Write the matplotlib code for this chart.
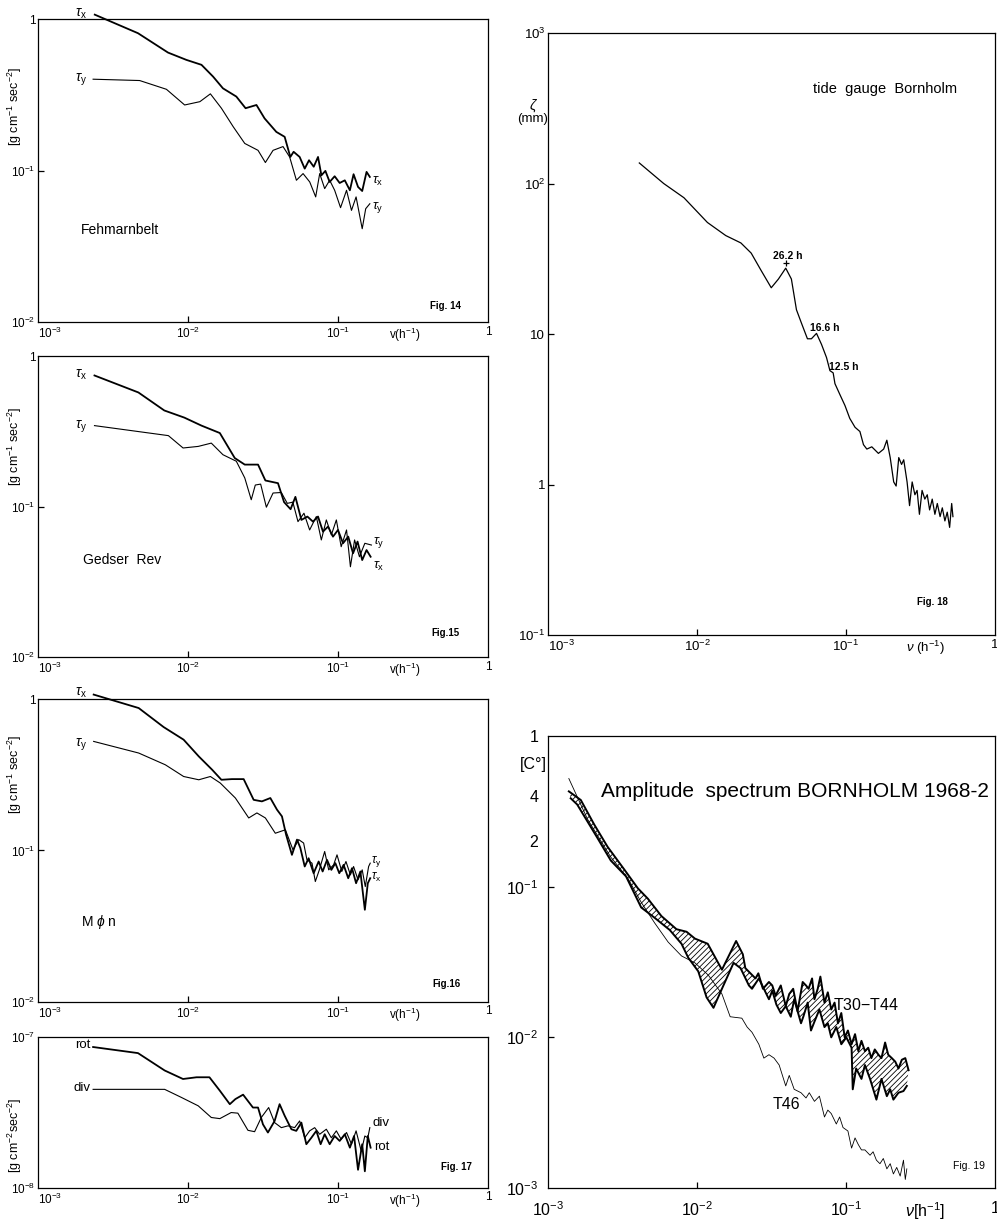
import matplotlib
matplotlib.use("Agg")
import matplotlib.pyplot as plt
from matplotlib.ticker import FixedLocator, FixedFormatter, NullFormatter

plt.rcParams['font.family'] = ['Liberation Sans', 'DejaVu Sans']
plt.rcParams['mathtext.fontset'] = 'custom'
plt.rcParams['mathtext.rm'] = 'Liberation Sans'
plt.rcParams['mathtext.it'] = 'Liberation Sans:italic'
plt.rcParams['mathtext.bf'] = 'Liberation Sans:bold'
plt.rcParams['hatch.linewidth'] = 0.6

# ---- Fig. 14  Fehmarnbelt ----
f14_tx = [0.00239, 0.00464, 0.00736, 0.00975, 0.0123, 0.0147, 0.0171, 0.021, 0.0242, 0.0286,
          0.0324, 0.0388, 0.0441, 0.0481, 0.0506, 0.0555, 0.06, 0.0641, 0.0689, 0.0736,
          0.0775, 0.0824, 0.088, 0.095, 0.1026, 0.111, 0.12, 0.127, 0.136, 0.145, 0.155, 0.163]
v14_tx = [1.07, 0.807, 0.601, 0.538, 0.499, 0.417, 0.349, 0.308, 0.258, 0.271,
          0.221, 0.18, 0.167, 0.123, 0.133, 0.123, 0.103, 0.117, 0.106, 0.123,
          0.093, 0.0995, 0.0841, 0.0917, 0.0828, 0.0862, 0.0741, 0.0946, 0.078, 0.0733, 0.098, 0.0908]
f14_ty = [0.00233, 0.00476, 0.00718, 0.0095, 0.012, 0.0141, 0.0167, 0.02, 0.0239, 0.0293,
          0.0328, 0.0369, 0.043, 0.0476, 0.0528, 0.0585, 0.0648, 0.071, 0.0755, 0.0815,
          0.088, 0.095, 0.104, 0.114, 0.123, 0.132, 0.145, 0.153, 0.163]
v14_ty = [0.401, 0.393, 0.344, 0.271, 0.285, 0.321, 0.258, 0.195, 0.151, 0.136,
          0.113, 0.136, 0.144, 0.123, 0.0863, 0.0955, 0.0841, 0.067, 0.0955, 0.076,
          0.0863, 0.0741, 0.0569, 0.0741, 0.0546, 0.067, 0.0413, 0.056, 0.0604]

# ---- Fig. 15  Gedser Rev ----
f15_tx = [0.00238, 0.00467, 0.00695, 0.00945, 0.0123, 0.0163, 0.0205, 0.0239, 0.0293, 0.0328,
          0.0398, 0.0437, 0.0483, 0.052, 0.057, 0.0625, 0.0681, 0.0736, 0.0794, 0.0858,
          0.0926, 0.1, 0.108, 0.117, 0.126, 0.135, 0.145, 0.155, 0.165]
v15_tx = [0.743, 0.573, 0.435, 0.39, 0.345, 0.308, 0.21, 0.19, 0.19, 0.149,
          0.143, 0.107, 0.096, 0.116, 0.0815, 0.0858, 0.0794, 0.0858, 0.0681, 0.0736,
          0.0631, 0.0699, 0.057, 0.0631, 0.0489, 0.0585, 0.0441, 0.0514, 0.0464]
f15_ty = [0.00238, 0.0074, 0.00927, 0.0117, 0.0143, 0.0171, 0.021, 0.0239, 0.0264, 0.0281,
          0.0305, 0.0333, 0.0369, 0.0419, 0.0459, 0.05, 0.0541, 0.0593, 0.0647, 0.0717,
          0.0774, 0.0836, 0.0903, 0.0975, 0.105, 0.114, 0.121, 0.129, 0.139, 0.151, 0.167]
v15_ty = [0.345, 0.296, 0.245, 0.251, 0.264, 0.221, 0.2, 0.155, 0.111, 0.139,
          0.141, 0.099, 0.123, 0.124, 0.105, 0.107, 0.0794, 0.0903, 0.0699, 0.0858,
          0.06, 0.0815, 0.0648, 0.0815, 0.0541, 0.0699, 0.0398, 0.06, 0.0464, 0.057, 0.0555]

# ---- Fig. 16  Møn ----
f16_tx = [0.00235, 0.00469, 0.00688, 0.00935, 0.0118, 0.0145, 0.0167, 0.0196, 0.0235, 0.0274,
          0.0311, 0.0354, 0.0392, 0.0423, 0.0451, 0.0493, 0.0533, 0.0561, 0.06, 0.0637,
          0.0688, 0.0743, 0.079, 0.0845, 0.0903, 0.096, 0.102, 0.109, 0.117, 0.124,
          0.132, 0.141, 0.151, 0.158, 0.164]
v16_tx = [1.07, 0.872, 0.653, 0.539, 0.418, 0.341, 0.293, 0.296, 0.296, 0.216,
          0.211, 0.222, 0.186, 0.168, 0.127, 0.0936, 0.118, 0.104, 0.0784, 0.0889,
          0.0708, 0.0846, 0.0727, 0.0867, 0.0745, 0.0825, 0.0708, 0.0804, 0.0656, 0.0764,
          0.0608, 0.0727, 0.0406, 0.0608, 0.0656]
f16_ty = [0.00235, 0.00469, 0.00706, 0.00935, 0.0118, 0.0141, 0.0164, 0.0207, 0.0254, 0.0288,
          0.0328, 0.0382, 0.0446, 0.0501, 0.0547, 0.059, 0.0621, 0.0671, 0.0706, 0.0751,
          0.0815, 0.0867, 0.0935, 0.0985, 0.106, 0.113, 0.121, 0.127, 0.136, 0.145,
          0.152, 0.16, 0.164]
v16_ty = [0.525, 0.44, 0.368, 0.308, 0.293, 0.308, 0.279, 0.222, 0.164, 0.177,
          0.164, 0.13, 0.137, 0.101, 0.118, 0.112, 0.0867, 0.0825, 0.0624, 0.0745,
          0.0985, 0.0745, 0.0804, 0.0936, 0.0727, 0.0846, 0.069, 0.0784, 0.064, 0.0745,
          0.0578, 0.0784, 0.0825]

# ---- Fig. 17  rot / div ----
f17_rot = [0.00233, 0.00464, 0.00699, 0.00926, 0.0114, 0.0139, 0.0163, 0.019, 0.0207, 0.0233,
           0.0271, 0.0293, 0.0316, 0.0341, 0.0378, 0.0408, 0.0441, 0.0489, 0.0527, 0.057,
           0.0615, 0.0664, 0.0717, 0.0766, 0.0815, 0.088, 0.095, 0.1026, 0.111, 0.12,
           0.128, 0.136, 0.145, 0.151, 0.158, 0.165]
v17_rot = [8.58e-8, 7.82e-8, 6.0e-8, 5.27e-8, 5.41e-8, 5.41e-8, 4.41e-8, 3.59e-8, 3.88e-8, 4.15e-8,
           3.41e-8, 3.41e-8, 2.64e-8, 2.33e-8, 2.78e-8, 3.59e-8, 3.01e-8, 2.45e-8, 2.39e-8, 2.71e-8,
           1.95e-8, 2.15e-8, 2.39e-8, 1.95e-8, 2.27e-8, 1.95e-8, 2.21e-8, 2.05e-8, 2.27e-8, 1.85e-8,
           2.21e-8, 1.32e-8, 1.95e-8, 1.29e-8, 2.21e-8, 1.85e-8]
f17_div = [0.00233, 0.00699, 0.00903, 0.0117, 0.0143, 0.0163, 0.0194, 0.0215, 0.0251, 0.0278,
           0.0308, 0.0345, 0.0378, 0.0419, 0.0464, 0.0514, 0.0555, 0.06, 0.0647, 0.0699,
           0.0755, 0.0836, 0.0903, 0.0975, 0.105, 0.114, 0.123, 0.132, 0.143, 0.151,
           0.158, 0.163]
v17_div = [4.5e-8, 4.5e-8, 3.98e-8, 3.5e-8, 2.93e-8, 2.88e-8, 3.16e-8, 3.13e-8, 2.41e-8, 2.36e-8,
           2.93e-8, 3.41e-8, 2.71e-8, 2.51e-8, 2.58e-8, 2.51e-8, 2.78e-8, 2.15e-8, 2.39e-8, 2.51e-8,
           2.27e-8, 2.45e-8, 2.15e-8, 2.39e-8, 2.1e-8, 2.33e-8, 1.95e-8, 2.39e-8, 1.75e-8, 2.21e-8,
           2.15e-8, 2.51e-8]

# ---- Fig. 18  tide gauge Bornholm ----
f18 = [0.0041, 0.00598, 0.00817, 0.01175, 0.0156, 0.0197, 0.0231, 0.0269, 0.0315, 0.0352,
       0.0394, 0.043, 0.0465, 0.0501, 0.0551, 0.0586, 0.0634, 0.0685, 0.074, 0.078,
       0.082, 0.0843, 0.091, 0.0984, 0.106, 0.115, 0.124, 0.131, 0.138, 0.149,
       0.165, 0.179, 0.188, 0.198, 0.209, 0.217, 0.226, 0.236, 0.244, 0.257,
       0.267, 0.278, 0.29, 0.3, 0.311, 0.324, 0.338, 0.351, 0.364, 0.379,
       0.395, 0.41, 0.428, 0.443, 0.461, 0.478, 0.496, 0.512, 0.522]
v18 = [137, 100, 80.5, 55.1, 45.1, 40.3, 34.5, 26.5, 20.3, 23.2,
       27.4, 23.2, 14.5, 11.9, 9.3, 9.3, 10.1, 8.53, 6.98, 5.71,
       5.52, 4.68, 3.96, 3.35, 2.75, 2.4, 2.25, 1.84, 1.72, 1.78,
       1.61, 1.72, 1.97, 1.51, 1.04, 0.977, 1.51, 1.36, 1.46, 1.04,
       0.724, 1.04, 0.855, 0.914, 0.634, 0.914, 0.8, 0.855, 0.678, 0.8,
       0.634, 0.748, 0.612, 0.7, 0.573, 0.655, 0.519, 0.748, 0.612]
peak18 = 10  # index of the 26.2 h peak

# ---- Fig. 19  amplitude spectrum ----
f19_t46 = [0.00138, 0.00184, 0.00264, 0.00343, 0.00422, 0.0052, 0.0064, 0.00787, 0.00969, 0.0119,
           0.0147, 0.0167, 0.02, 0.0217, 0.0234, 0.026, 0.0281, 0.0304, 0.0329, 0.0356,
           0.0394, 0.0416, 0.0449, 0.0499, 0.0539, 0.0567, 0.0614, 0.0663, 0.0717, 0.0755,
           0.0796, 0.0861, 0.0906, 0.0955, 0.103, 0.109, 0.115, 0.121, 0.127, 0.134,
           0.145, 0.152, 0.16, 0.169, 0.178, 0.188, 0.198, 0.208, 0.219, 0.231,
           0.243, 0.25, 0.256]
v19_t46 = [0.522, 0.281, 0.157, 0.114, 0.0788, 0.0574, 0.0429, 0.0347, 0.0312, 0.0259,
           0.0194, 0.0137, 0.0134, 0.0117, 0.0108, 0.009, 0.00728, 0.00767, 0.00728, 0.00655,
           0.00476, 0.00559, 0.00452, 0.00429, 0.00396, 0.00429, 0.00376, 0.00407, 0.00296, 0.00329,
           0.00312, 0.00266, 0.00296, 0.00252, 0.00239, 0.00184, 0.00215, 0.00194, 0.00179, 0.00179,
           0.00165, 0.00174, 0.00153, 0.00145, 0.00157, 0.00134, 0.00145, 0.00124, 0.00137, 0.0012,
           0.00153, 0.00114, 0.00134]
f19_up = [0.00138, 0.00166, 0.00204, 0.00251, 0.00325, 0.00401, 0.00468, 0.00577, 0.00728, 0.00851,
          0.00969, 0.0118, 0.0147, 0.0183, 0.0203, 0.0211, 0.0247, 0.0258, 0.0277, 0.0304,
          0.032, 0.0337, 0.0365, 0.0394, 0.0416, 0.0442, 0.0473, 0.0512, 0.0539, 0.0561,
          0.0592, 0.0614, 0.0646, 0.0673, 0.0717, 0.0755, 0.0796, 0.0838, 0.0883, 0.093,
          0.098, 0.103, 0.109, 0.115, 0.121, 0.127, 0.134, 0.141, 0.148, 0.156,
          0.165, 0.173, 0.183, 0.192, 0.203, 0.214, 0.225, 0.237, 0.25, 0.263]
v19_up = [0.429, 0.376, 0.259, 0.184, 0.13, 0.0975, 0.0832, 0.0638, 0.0522, 0.0502,
          0.0452, 0.0418, 0.0281, 0.0436, 0.0356, 0.0288, 0.0246, 0.0266, 0.021, 0.0233,
          0.0221, 0.0189, 0.0221, 0.0161, 0.0194, 0.021, 0.0149, 0.0233, 0.0221, 0.021,
          0.0246, 0.0179, 0.021, 0.0253, 0.017, 0.0199, 0.0153, 0.017, 0.0124, 0.0145,
          0.01, 0.0111, 0.009, 0.0105, 0.0081, 0.00948, 0.0081, 0.00853, 0.00728, 0.00831,
          0.00767, 0.00728, 0.00924, 0.00767, 0.00728, 0.0069, 0.00621, 0.0071, 0.00728, 0.00605]
f19_lo = [0.00142, 0.00157, 0.00215, 0.00264, 0.00334, 0.00422, 0.0052, 0.00656, 0.00787, 0.00873,
          0.0102, 0.0116, 0.0129, 0.0147, 0.0176, 0.0196, 0.0223, 0.0234, 0.026, 0.0281,
          0.0304, 0.032, 0.0341, 0.0365, 0.0394, 0.0426, 0.0449, 0.0499, 0.0517, 0.0553,
          0.0582, 0.0614, 0.0663, 0.0717, 0.0755, 0.0796, 0.0861, 0.093, 0.1005, 0.109,
          0.111, 0.117, 0.127, 0.134, 0.145, 0.16, 0.173, 0.188, 0.198, 0.208,
          0.225, 0.243, 0.256]
v19_lo = [0.386, 0.351, 0.21, 0.149, 0.117, 0.0728, 0.0621, 0.0516, 0.0418, 0.0338,
          0.0274, 0.0184, 0.0157, 0.021, 0.0312, 0.0288, 0.0221, 0.021, 0.0246, 0.021,
          0.0179, 0.0204, 0.0165, 0.0145, 0.0161, 0.0137, 0.0179, 0.0124, 0.0137, 0.017,
          0.0111, 0.0127, 0.0153, 0.0117, 0.0124, 0.01, 0.0117, 0.009, 0.01, 0.00853,
          0.00452, 0.00621, 0.0053, 0.00655, 0.0053, 0.00386, 0.0053, 0.00407, 0.00452, 0.00386,
          0.00429, 0.0044, 0.00476]

# ---- tick labels ----
xt_left = [1e-3, 1e-2, 1e-1, 0.28, 1]
xl_left = ['$10^{-3}$', '$10^{-2}$', '$10^{-1}$', 'v(h$^{-1}$)', '1']
xt_right = [1e-3, 1e-2, 1e-1, 0.34, 1]
xl_18 = ['$10^{-3}$', '$10^{-2}$', '$10^{-1}$', r'$\nu$ (h$^{-1}$)', '1']
xl_19 = ['$10^{-3}$', '$10^{-2}$', '$10^{-1}$', r'$\nu$[h$^{-1}$]', '1']
yt_tau = [1e-2, 1e-1, 1]
yl_tau = ['$10^{-2}$', '$10^{-1}$', '1']
yt_17 = [1e-8, 1e-7]
yl_17 = ['$10^{-8}$', '$10^{-7}$']
yt_18 = [0.1, 1, 10, 100, 1000]
yl_18 = ['$10^{-1}$', '1', '10', '$10^{2}$', '$10^{3}$']
yt_19 = [1e-3, 1e-2, 1e-1, 0.2, 0.4, 1]
yl_19 = ['$10^{-3}$', '$10^{-2}$', '$10^{-1}$', '2', '4', '1']

fig = plt.figure(figsize=(9.97, 12.24), dpi=100)


def panel(rect, ylim, yt, yl, ymarks, xt, xl, size, xpad, ypad, first_left=True):
    ax = fig.add_axes(rect)
    ax.set_xscale('log')
    ax.set_yscale('log')
    ax.set_xlim(1e-3, 1)
    ax.set_ylim(*ylim)
    ax.xaxis.remove_overlapping_locs = False
    ax.yaxis.remove_overlapping_locs = False
    ax.xaxis.set_major_locator(FixedLocator(xt))
    ax.xaxis.set_major_formatter(FixedFormatter(xl))
    ax.xaxis.set_minor_locator(FixedLocator([1e-2, 1e-1]))
    ax.xaxis.set_minor_formatter(NullFormatter())
    ax.yaxis.set_major_locator(FixedLocator(yt))
    ax.yaxis.set_major_formatter(FixedFormatter(yl))
    ax.yaxis.set_minor_locator(FixedLocator(ymarks))
    ax.yaxis.set_minor_formatter(NullFormatter())
    ax.tick_params(which='major', length=0, labelsize=size)
    ax.tick_params(axis='x', which='major', pad=xpad)
    ax.tick_params(axis='y', which='major', pad=ypad)
    ax.tick_params(which='minor', direction='in', length=4, width=0.9)
    for s in ax.spines.values():
        s.set_linewidth(0.9)
    if first_left:
        # corner label 10^-3 starts at the axis, clear of the y label
        ax.xaxis.get_major_ticks()[0].label1.set_horizontalalignment('left')
    return ax


L = 38 / 997
W = 450 / 997
tau_x = r'$\tau_{\mathrm{x}}$'
tau_y = r'$\tau_{\mathrm{y}}$'
ylab_tau = r'[g cm$^{-1}$ sec$^{-2}$]'

# Fig. 14
ax = panel([L, 0.7369, W, 0.2475], (1e-2, 1), yt_tau, yl_tau, [1e-1], xt_left, xl_left, 8.5, 2.5, 2)
ax.plot(f14_tx, v14_tx, color='black', lw=1.3, clip_on=False)
ax.plot(f14_ty, v14_ty, color='black', lw=0.8)
ax.text(0.00212, 1.09, tau_x, fontsize=10, ha='right', va='center')
ax.text(0.00212, 0.40, tau_y, fontsize=10, ha='right', va='center')
ax.text(0.168, 0.085, tau_x, fontsize=9.5, ha='left', va='center')
ax.text(0.168, 0.057, tau_y, fontsize=9.5, ha='left', va='center')
ax.text(0.096, 0.29, 'Fehmarnbelt', fontsize=10, transform=ax.transAxes)
ax.text(0.87, 0.044, 'Fig. 14', fontsize=7, fontweight='bold', transform=ax.transAxes)
ax.text(-0.052, 0.71, ylab_tau, fontsize=9, rotation=90, ha='center', va='center', transform=ax.transAxes)

# Fig. 15
ax = panel([L, 0.4632, W, 0.2459], (1e-2, 1), yt_tau, yl_tau, [1e-1], xt_left, xl_left, 8.5, 2.5, 2)
ax.plot(f15_tx, v15_tx, color='black', lw=1.3)
ax.plot(f15_ty, v15_ty, color='black', lw=0.8)
ax.text(0.00212, 0.75, tau_x, fontsize=10, ha='right', va='center')
ax.text(0.00212, 0.34, tau_y, fontsize=10, ha='right', va='center')
ax.text(0.17, 0.058, tau_y, fontsize=9.5, ha='left', va='center')
ax.text(0.17, 0.040, tau_x, fontsize=9.5, ha='left', va='center')
ax.text(0.10, 0.31, 'Gedser  Rev', fontsize=10, transform=ax.transAxes)
ax.text(0.874, 0.07, 'Fig.15', fontsize=7, fontweight='bold', transform=ax.transAxes)
ax.text(-0.052, 0.70, ylab_tau, fontsize=9, rotation=90, ha='center', va='center', transform=ax.transAxes)

# Fig. 16
ax = panel([L, 0.1814, W, 0.2475], (1e-2, 1), yt_tau, yl_tau, [1e-1], xt_left, xl_left, 8.5, 2.5, 2)
ax.plot(f16_tx, v16_tx, color='black', lw=1.3, clip_on=False)
ax.plot(f16_ty, v16_ty, color='black', lw=0.8)
ax.text(0.00212, 1.10, tau_x, fontsize=10, ha='right', va='center')
ax.text(0.00212, 0.50, tau_y, fontsize=10, ha='right', va='center')
ax.text(0.166, 0.085, tau_y, fontsize=8.5, ha='left', va='center')
ax.text(0.166, 0.066, tau_x, fontsize=8.5, ha='left', va='center')
ax.text(0.095, 0.25, 'M $\\phi$ n', fontsize=10, transform=ax.transAxes)
ax.text(0.876, 0.05, 'Fig.16', fontsize=7, fontweight='bold', transform=ax.transAxes)
ax.text(-0.052, 0.75, ylab_tau, fontsize=9, rotation=90, ha='center', va='center', transform=ax.transAxes)

# Fig. 17
ax = panel([L, 0.0294, W, 0.1234], (1e-8, 1e-7), yt_17, yl_17, [], xt_left, xl_left, 8.5, 2.5, 2)
ax.plot(f17_rot, v17_rot, color='black', lw=1.3)
ax.plot(f17_div, v17_div, color='black', lw=0.8)
ax.text(0.00225, 8.9e-8, 'rot', fontsize=9.5, ha='right', va='center')
ax.text(0.00225, 4.6e-8, 'div', fontsize=9.5, ha='right', va='center')
ax.text(0.171, 2.68e-8, 'div', fontsize=9.5, ha='left', va='center')
ax.text(0.174, 1.88e-8, 'rot', fontsize=9.5, ha='left', va='center')
ax.text(0.896, 0.12, 'Fig. 17', fontsize=7, fontweight='bold', transform=ax.transAxes)
ax.text(-0.052, 0.35, r'[g cm$^{-2}$sec$^{-2}$]', fontsize=9, rotation=90,
        ha='center', va='center', transform=ax.transAxes)

# Fig. 18
RL = 548 / 997
RW = 447 / 997
ax = panel([RL, 0.4812, RW, 0.4918], (0.1, 1000), yt_18, yl_18, [1, 10, 100], xt_right, xl_18, 9.5, 3, 2)
ax.plot(f18, v18, color='black', lw=0.9)
ax.plot(f18[peak18], v18[peak18] * 1.08, marker='+', color='black', ms=5, mew=0.9)
ax.text(0.0405, 33, '26.2 h', fontsize=7.5, fontweight='bold', ha='center', va='center')
ax.text(0.057, 10.9, '16.6 h', fontsize=7.5, fontweight='bold', ha='left', va='center')
ax.text(0.0767, 6.0, '12.5 h', fontsize=7.5, fontweight='bold', ha='left', va='center')
ax.text(0.593, 0.90, 'tide  gauge  Bornholm', fontsize=10.5, transform=ax.transAxes)
ax.text(0.826, 0.05, 'Fig. 18', fontsize=7, fontweight='bold', transform=ax.transAxes)
fig.text(533 / 997, 1 - 106 / 1224, r'$\zeta$', fontsize=10, ha='center', va='center')
fig.text(533 / 997, 1 - 119 / 1224, '(mm)', fontsize=9.5, ha='center', va='center')

# Fig. 19
ax = panel([RL, 0.0294, RW, 0.3693], (1e-3, 1), yt_19, yl_19, [1e-2, 1e-1], xt_right, xl_19, 11.5, 9, 7,
           first_left=False)
band_f = f19_up + f19_lo[::-1]
band_v = v19_up + v19_lo[::-1]
ax.fill(band_f, band_v, facecolor='white', edgecolor='black', hatch='//////', lw=0)
ax.plot(f19_up, v19_up, color='black', lw=1.4)
ax.plot(f19_lo, v19_lo, color='black', lw=1.4)
ax.plot(f19_t46, v19_t46, color='black', lw=0.6)
ax.text(0.0817, 0.0165, 'T30$-$T44', fontsize=11.5, ha='left', va='center')
ax.text(0.0321, 0.00356, 'T46', fontsize=11.5, ha='left', va='center')
ax.text(0.118, 0.877, 'Amplitude  spectrum BORNHOLM 1968-2', fontsize=15, va='center',
        transform=ax.transAxes)
ax.text(0.906, 0.042, 'Fig. 19', fontsize=7.5, transform=ax.transAxes)
fig.text(533 / 997, 1 - 765 / 1224, '[C°]', fontsize=11.5, ha='center', va='center')

plt.savefig('out.png', dpi=100)
